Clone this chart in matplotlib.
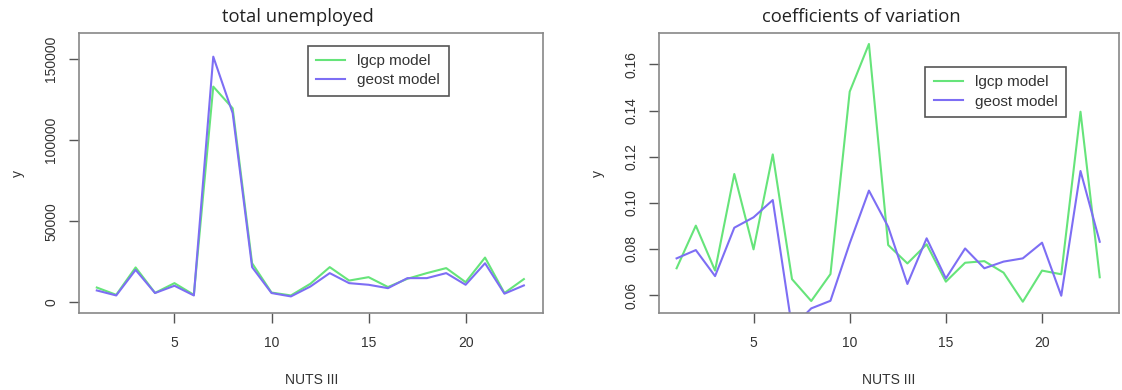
import matplotlib.pyplot as plt
import numpy as np

# %% Dane
nuts = np.arange(1, 24)

unemp_lgcp = [9000, 4500, 21400, 5700, 11700, 4500, 133100, 119700, 24000, 5900, 4100, 11300,
              21600, 13300, 15400, 9300, 14400, 17900, 21000, 12300, 27500, 5600, 14200]
unemp_geost = [7200, 4100, 19900, 5600, 10100, 4100, 151600, 116700, 21600, 5600, 3500, 9600,
               17900, 11700, 10700, 8600, 14800, 14800, 17900, 10700, 24000, 5200, 10300]

cv_lgcp = [0.0716, 0.0901, 0.0706, 0.1125, 0.0798, 0.1210, 0.0669, 0.0574, 0.0691, 0.1482,
           0.1689, 0.0817, 0.0737, 0.0820, 0.0658, 0.0740, 0.0747, 0.0697, 0.0571, 0.0706,
           0.0690, 0.1395, 0.0677]
cv_geost = [0.0759, 0.0795, 0.0682, 0.0892, 0.0937, 0.1012, 0.0458, 0.0542, 0.0575, 0.0824,
            0.1053, 0.0896, 0.0648, 0.0846, 0.0672, 0.0802, 0.0716, 0.0745, 0.0759, 0.0827,
            0.0597, 0.1138, 0.0831]

# %% Wykres
tick_font = ["Liberation Sans Narrow", "Liberation Sans"]
green = "#66e47a"
blue = "#7d6ef4"
edge = "#555555"

fig = plt.figure(figsize=(11.22, 3.9), dpi=100)
ax1 = fig.add_axes([0.0707, 0.198, 0.4135, 0.7165])
ax2 = fig.add_axes([0.5876, 0.198, 0.4097, 0.7165])

panele = [
    (ax1, unemp_lgcp, unemp_geost, (-6600, 166000), [0, 50000, 100000, 150000],
     ["0", "50000", "100000", "150000"], (0.644, 0.866)),
    (ax2, cv_lgcp, cv_geost, (0.0523, 0.1735), [0.06, 0.08, 0.10, 0.12, 0.14, 0.16],
     ["0.06", "0.08", "0.10", "0.12", "0.14", "0.16"], (0.732, 0.79)),
]

for ax, lgcp, geost, ylim, yt, ytl, leg_pos in panele:
    ax.plot(nuts, lgcp, color=green, lw=1.5, label="lgcp model")
    ax.plot(nuts, geost, color=blue, lw=1.5, label="geost model")
    ax.set_xlim(0.1, 24.0)
    ax.set_ylim(*ylim)
    ax.set_xticks([5, 10, 15, 20])
    ax.set_xticklabels(["5", "10", "15", "20"], family=tick_font, fontsize=10, color="#333333")
    ax.set_yticks(yt)
    ax.set_yticklabels(ytl, family=tick_font, fontsize=10, color="#333333",
                       rotation=90, va="center")
    ax.tick_params(axis="x", length=7, width=1, color=edge, pad=10)
    ax.tick_params(axis="y", length=7, width=1, color=edge, pad=8)
    for s in ax.spines.values():
        s.set_color("#888888")
        s.set_linewidth(1.2)
    ax.set_xlabel("NUTS III", family=tick_font, fontsize=10, color="#333333", labelpad=16)
    ax.set_ylabel("y", family=tick_font, fontsize=10, color="#333333", labelpad=14)
    leg = ax.legend(loc="center", bbox_to_anchor=leg_pos, fancybox=False, framealpha=1,
                    edgecolor="#555555", handlelength=1.9, handletextpad=0.8,
                    borderpad=0.55, borderaxespad=0, labelspacing=0.35,
                    prop={"family": "Liberation Sans", "size": 11})
    leg.get_frame().set_linewidth(1.2)
    for t in leg.get_texts():
        t.set_color("#333333")

fig.text(0.2656, 0.956, "total unemployed", ha="center", va="center",
         family="Open Sans", fontsize=13.2, color="#222222")
fig.text(0.768, 0.956, "coefficients of variation", ha="center", va="center",
         family="Open Sans", fontsize=13.2, color="#222222")

fig.savefig("out.png", dpi=100)
